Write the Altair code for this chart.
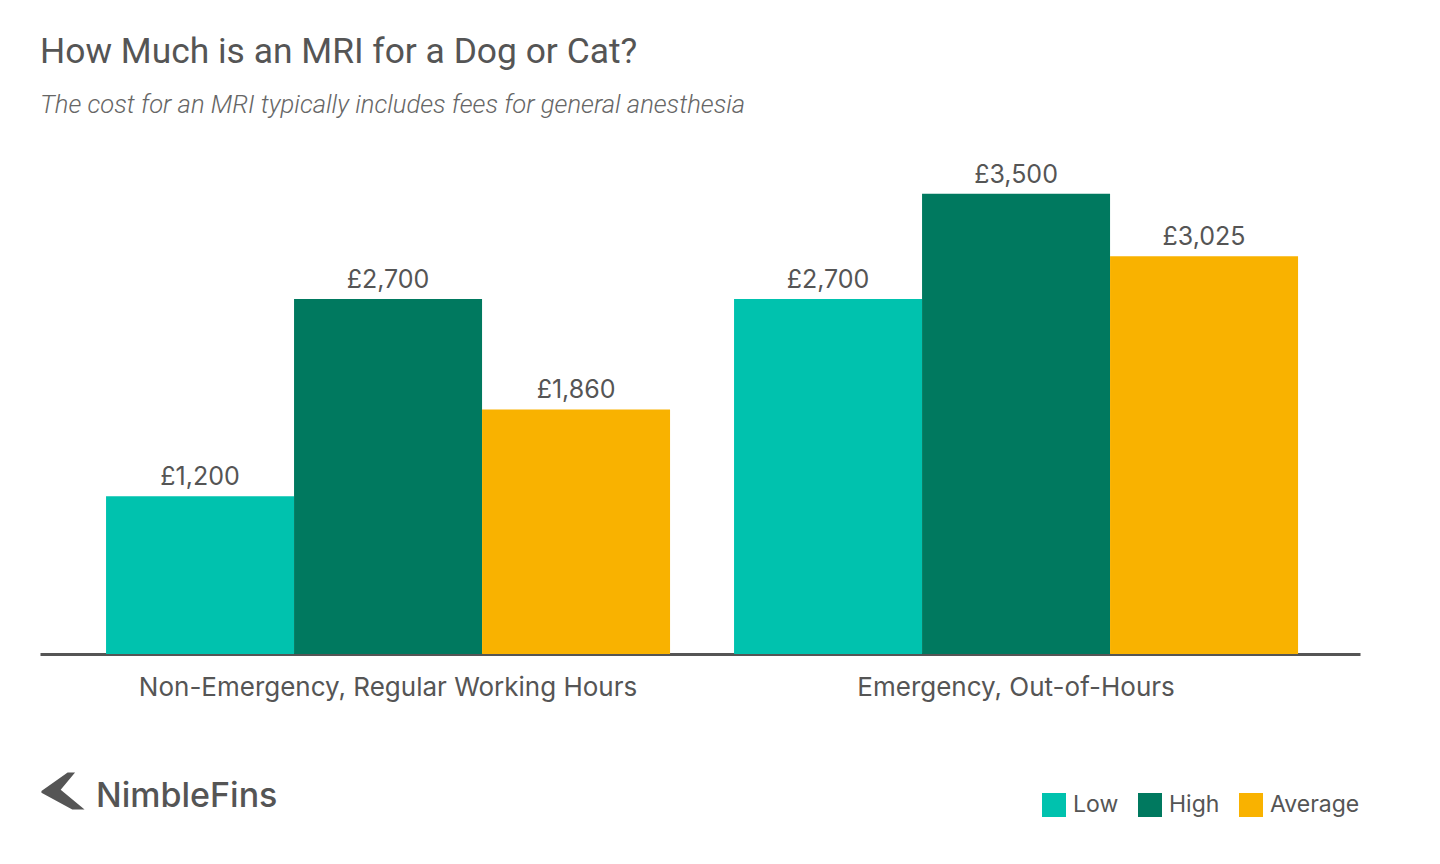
import altair as alt
import pandas as pd

categories = ["Non-Emergency, Regular Working Hours", "Emergency, Out-of-Hours"]
series = ["Low", "High", "Average"]
low_values = [1200, 2700]
high_values = [2700, 3500]
average_values = [1860, 3025]
colors = ["#00c2ae", "#00795f", "#f9b200"]

rows = []
for i, c in enumerate(categories):
    for s, vals in zip(series, [low_values, high_values, average_values]):
        rows.append({"category": c, "series": s, "value": vals[i]})
df = pd.DataFrame(rows)

TEXT = "#555555"
FONT = "Inter"

x_enc = alt.X("category:N", sort=categories, title=None,
              scale=alt.Scale(paddingInner=0.1019, paddingOuter=0.1019, align=0.516),
              axis=alt.Axis(labelAngle=0, ticks=False, domainColor=TEXT, domainWidth=3,
                            labelFont=FONT, labelFontSize=26, labelColor=TEXT,
                            labelPadding=20, labelLimit=800, grid=False))
xo_enc = alt.XOffset("series:N", sort=series, scale=alt.Scale(paddingInner=0, paddingOuter=0))
y_enc = alt.Y("value:Q", scale=alt.Scale(domain=[0, 4000]), axis=None)

bars = alt.Chart(df).mark_bar().encode(
    x=x_enc, xOffset=xo_enc, y=y_enc,
    color=alt.Color("series:N", sort=series,
                    scale=alt.Scale(domain=series, range=colors),
                    legend=alt.Legend(title=None, orient="none", direction="horizontal",
                                      legendX=1002, legendY=665, symbolType="square",
                                      symbolSize=576, symbolStrokeWidth=0, symbolOpacity=1,
                                      labelFont=FONT, labelFontSize=23, labelColor=TEXT,
                                      labelOffset=7, columnPadding=19, padding=0)),
)

labels = alt.Chart(df).transform_calculate(
    label="'£' + format(datum.value, ',')"
).mark_text(font=FONT, fontSize=25, color=TEXT, baseline="alphabetic", dy=-11).encode(
    x=x_enc, xOffset=xo_enc, y=y_enc, text="label:N"
)

logo_text = alt.Chart(pd.DataFrame({"t": ["NimbleFins"]})).mark_text(
    font=FONT, fontSize=34, fontWeight=500, color=TEXT, align="left", baseline="alphabetic"
).encode(x=alt.value(56), y=alt.value(679), text="t:N")

chevron_path = "M -0.93 0 L 0.2 -0.8 L 0.52 -0.8 L -0.1 -0.05 L 0.93 0.8 L 0.4 0.8 L -0.93 0.08 Z"
logo_mark = alt.Chart(pd.DataFrame({"t": ["logo"]})).mark_point(
    shape=chevron_path, filled=True, color=TEXT, opacity=1, size=2150
).encode(x=alt.value(23), y=alt.value(663))

chart = alt.layer(bars, labels, logo_text, logo_mark).properties(
    width=1320, height=526,
    background="white",
    autosize=alt.AutoSizeParams(type="none"),
    padding={"left": 32, "top": 120, "right": 60, "bottom": 200},
    title=alt.TitleParams(
        text="How Much is an MRI for a Dog or Cat?",
        subtitle="The cost for an MRI typically includes fees for general anesthesia",
        anchor="start", font="Roboto", fontSize=35.4, fontWeight=400, color=TEXT,
        subtitleFont="Roboto", subtitleFontSize=25.6, subtitleFontStyle="italic",
        subtitleFontWeight=300, subtitleColor="#666666",
        offset=9, subtitlePadding=23,
    ),
).configure_view(stroke=None, strokeWidth=0)

chart.save("out.html", embed_options={"renderer": "svg", "actions": False})
